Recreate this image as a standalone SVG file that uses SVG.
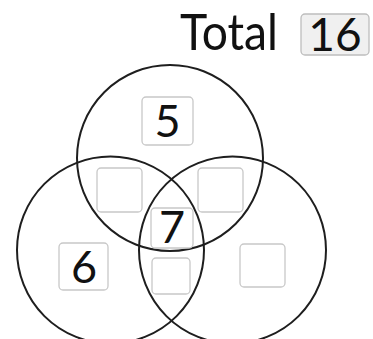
<svg xmlns="http://www.w3.org/2000/svg" width="373" height="339" viewBox="0 0 373 339">
<style>
.c{fill:none;stroke:#1e1e1e;stroke-width:2}
.b{fill:#fff;stroke:#c8c8c8;stroke-width:1.3}
.bt{fill:#f0f0f0;stroke:#bdbdbd;stroke-width:1.3}
.t{font-family:Lato,"Liberation Sans",sans-serif;fill:#111;text-anchor:middle}
</style>
<rect width="373" height="339" fill="#fff"/>
<g id="circles">
<circle id="top" class="c" cx="170" cy="158" r="93"/>
<circle id="left" class="c" cx="110.5" cy="250" r="93.5"/>
<circle id="right" class="c" cx="232.5" cy="250" r="93.5"/>
</g>
<g id="total">
<text class="t" x="229" y="50" font-size="50" textLength="98" lengthAdjust="spacingAndGlyphs">Total</text>
<rect class="bt" x="301" y="14" width="68" height="41" rx="4"/>
<text class="t" x="335" y="51" font-size="46">16</text>
</g>
<g id="top-only">
<rect class="b" x="142" y="97" width="51" height="48" rx="4"/>
<text class="t" x="167.5" y="137" font-size="45">5</text>
</g>
<g id="top-left">
<rect class="b" x="97" y="168" width="45" height="44" rx="4"/>
</g>
<g id="top-right">
<rect class="b" x="198" y="168" width="45" height="44" rx="4"/>
</g>
<g id="center">
<rect class="b" x="151" y="208" width="42" height="40" rx="4"/>
<text class="t" x="172" y="243" font-size="45">7</text>
</g>
<g id="left-right">
<rect class="b" x="152" y="258" width="38" height="36" rx="4"/>
</g>
<g id="left-only">
<rect class="b" x="59" y="243" width="49" height="47" rx="4"/>
<text class="t" x="84" y="283" font-size="45">6</text>
</g>
<g id="right-only">
<rect class="b" x="240" y="244" width="45" height="43" rx="4"/>
</g>
</svg>
